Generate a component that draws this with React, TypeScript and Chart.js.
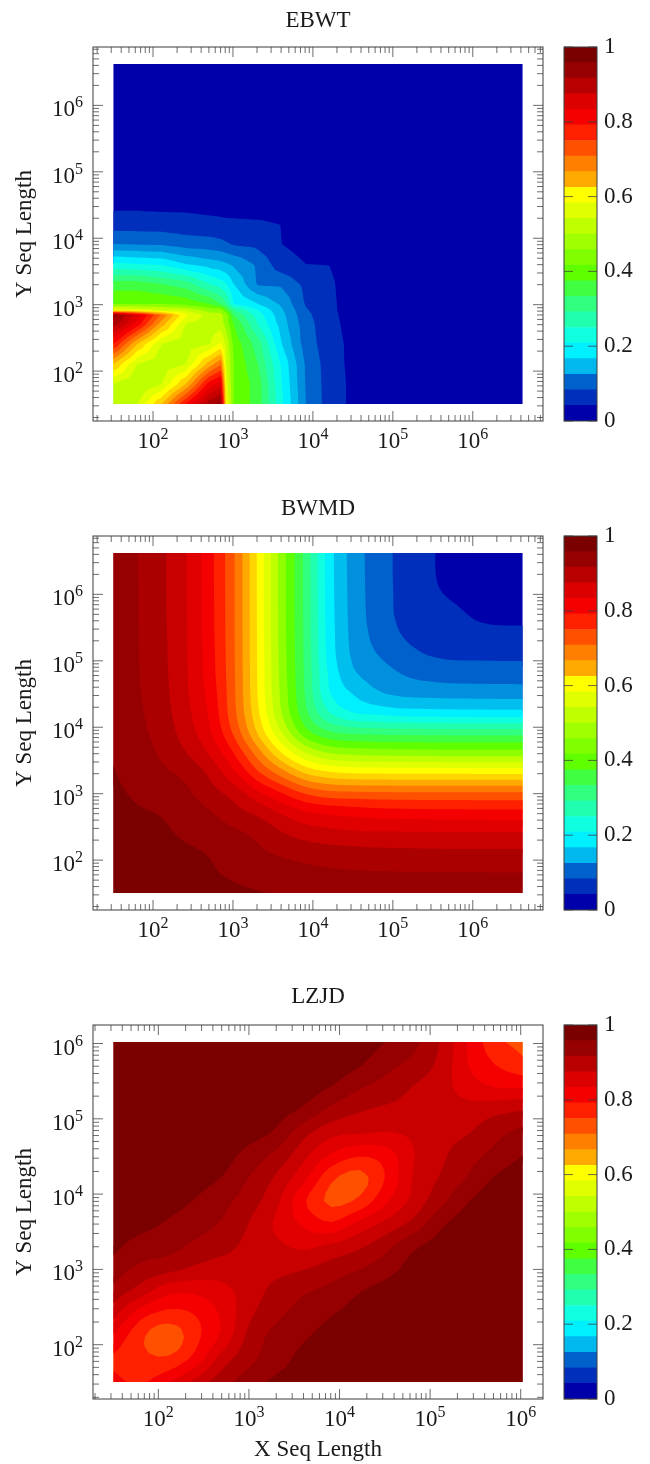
import React, { useEffect, useRef } from "react";
import { Chart, registerables } from "chart.js";

Chart.register(...registerables);

// Sequence lengths at which each table was read (contour nodes).
const ebwtLengths = [32, 64, 128, 256, 512, 700, 832, 1024, 2048, 4096, 8192, 16384, 32768, 65536, 131072, 262144, 524288, 1048576, 2097152, 4194304];
const bwmdLengths = [32, 64, 128, 256, 512, 1024, 2048, 4096, 8192, 16384, 32768, 65536, 131072, 262144, 524288, 1048576, 2097152, 4194304];
const lzjdLengths = [32, 64, 128, 256, 512, 1024, 2048, 4096, 8192, 16384, 32768, 65536, 131072, 262144, 524288, 1048576];

// Similarity in 1/26ths (one unit per contour band); the matrices are symmetric, so only j >= i is listed.
const UNITS = 26;
const ebwtUpper = [
  [12.2, 13, 16, 20, 23.6, 24.5, 14, 11, 9.5, 6.2, 3, 1.5, 0.75, 0.35, 0.15, 0.08, 0.05, 0.05, 0.05, 0.05],
  [12, 13, 16, 20.5, 21.5, 13.5, 11, 9.5, 6, 2.9, 1.5, 0.75, 0.35, 0.12, 0.05, 0.05, 0.05, 0.05, 0.05],
  [12.3, 13, 16.5, 17.8, 13, 11, 9, 5.8, 2.85, 1.45, 0.7, 0.3, 0.12, 0.05, 0.05, 0.05, 0.05, 0.05],
  [12.3, 13, 14.2, 12.7, 10.7, 8.5, 5, 2.5, 1.4, 0.7, 0.3, 0.1, 0.05, 0.05, 0.05, 0.05, 0.05],
  [12.5, 12.5, 11.5, 10, 7, 4.5, 2.4, 1.3, 0.6, 0.25, 0.1, 0.05, 0.05, 0.05, 0.05, 0.05],
  [12.3, 11.5, 9, 6.5, 4.3, 2.25, 1.25, 0.55, 0.22, 0.08, 0.05, 0.05, 0.05, 0.05, 0.05],
  [10, 8, 6, 4.1, 2.1, 1.2, 0.52, 0.2, 0.08, 0.05, 0.05, 0.05, 0.05, 0.05],
  [6, 5, 3.8, 1.9, 1.2, 0.5, 0.2, 0.08, 0.05, 0.05, 0.05, 0.05, 0.05],
  [2.9, 2.8, 1.7, 1.15, 0.45, 0.18, 0.08, 0.05, 0.05, 0.05, 0.05, 0.05],
  [1.35, 1, 0.97, 0.45, 0.15, 0.06, 0.05, 0.05, 0.05, 0.05, 0.05],
  [0.7, 0.6, 0.25, 0.1, 0.05, 0.05, 0.05, 0.05, 0.05, 0.05],
  [0.35, 0.15, 0.07, 0.05, 0.05, 0.05, 0.05, 0.05, 0.05],
  [0.1, 0.05, 0.05, 0.05, 0.05, 0.05, 0.05, 0.05],
  [0.05, 0.05, 0.05, 0.05, 0.05, 0.05, 0.05],
  [0.05, 0.05, 0.05, 0.05, 0.05, 0.05],
  [0.05, 0.05, 0.05, 0.05, 0.05],
  [0.05, 0.05, 0.05, 0.05],
  [0.05, 0.05, 0.05],
  [0.05, 0.05],
  [0.05],
];
const bwmdUpper = [
  [25.8, 25.65, 25.4, 25.3, 25.2, 25.12, 25.04, 24.95, 24.9, 24.88, 24.86, 24.85, 24.84, 24.83, 24.82, 24.81, 24.8, 24.8],
  [25.6, 25.4, 25.25, 25.07, 24.9, 24.7, 24.5, 24.3, 24.18, 24.1, 24.07, 24.05, 24.04, 24.03, 24.03, 24.02, 24.02],
  [25.3, 25.15, 24.95, 24.65, 24.2, 23.85, 23.6, 23.45, 23.35, 23.28, 23.25, 23.22, 23.2, 23.2, 23.2, 23.2],
  [24.85, 24.55, 24.2, 23.75, 23.05, 22.55, 22.3, 22.15, 22.12, 22.1, 22.09, 22.07, 22.06, 22.05, 22.05],
  [24.1, 23.4, 22.8, 21.9, 21.15, 20.85, 20.65, 20.5, 20.45, 20.4, 20.38, 20.36, 20.35, 20.35],
  [22.6, 21.2, 20, 18.85, 18.3, 18.2, 18.15, 18.12, 18.1, 18.1, 18.1, 18.1, 18.1],
  [19.2, 17.5, 15.9, 15.2, 14.95, 14.9, 14.88, 14.87, 14.86, 14.85, 14.85, 14.85],
  [15, 13, 11.95, 11.7, 11.6, 11.55, 11.5, 11.48, 11.47, 11.47, 11.47],
  [10.4, 9.2, 8.85, 8.75, 8.7, 8.68, 8.66, 8.65, 8.65, 8.65],
  [7, 6, 5.75, 5.5, 5.45, 5.4, 5.38, 5.36, 5.35],
  [4.9, 4.1, 3.75, 3.65, 3.6, 3.58, 3.56, 3.55],
  [3.5, 2.95, 2.65, 2.5, 2.47, 2.45, 2.45],
  [2.35, 1.95, 1.8, 1.77, 1.75, 1.75],
  [1.6, 1.5, 1.25, 1.2, 1.2],
  [1.2, 0.9, 0.72, 0.7],
  [0.7, 0.45, 0.4],
  [0.3, 0.15],
  [0.05],
];
const lzjdUpper = [
  [20.3, 19.85, 20.85, 22.35, 23.65, 24.55, 25.25, 25.6, 25.8, 25.9, 25.9, 25.9, 25.9, 25.9, 25.9, 25.9],
  [19.3, 19.2, 20.4, 22.5, 23.75, 24.6, 25.3, 25.6, 25.8, 25.9, 25.9, 25.9, 25.9, 25.9, 25.9],
  [18.3, 19.7, 21.25, 23.35, 24.35, 24.9, 25.4, 25.7, 25.8, 25.9, 25.9, 25.9, 25.9, 25.9],
  [20.05, 21.2, 22.8, 23.8, 24.4, 24.95, 25.4, 25.7, 25.8, 25.9, 25.9, 25.9, 25.9],
  [21.7, 22.5, 23.35, 23.9, 24.3, 24.95, 25.4, 25.7, 25.8, 25.9, 25.9, 25.9],
  [22.7, 22.7, 22.95, 23.45, 23.95, 24.6, 25.4, 25.7, 25.8, 25.9, 25.9],
  [22.2, 21.8, 22.2, 22.8, 23.7, 24.8, 25.4, 25.7, 25.85, 25.9],
  [20.8, 20.1, 21.25, 22.25, 23.3, 24.8, 25.5, 25.8, 25.9],
  [18.75, 19.2, 20.85, 22.3, 23.7, 24.95, 25.6, 25.85],
  [18.65, 20.1, 22.1, 23.1, 24.1, 25.1, 25.6],
  [20.5, 21.95, 22.8, 23.6, 24.3, 25],
  [22.2, 22.65, 22.95, 23.7, 24.3],
  [22.5, 22.4, 22.7, 22.95],
  [21.5, 21, 20.95],
  [20, 19.3],
  [18.7],
];

// Filled contour colours, lowest band first.
const plotBands = [
  "#0000aa", "#0030bb", "#0060cc", "#0090dd", "#00bfee", "#00f0ff", "#10ffe0", "#20ffb0", "#30ff80",
  "#40ff40", "#60ff00", "#90ff00", "#bfff00", "#e0ff00", "#ffff00", "#ffd500", "#ffaa00", "#ff7a00",
  "#ff5000", "#ff2000", "#f50000", "#e00000", "#c80000", "#aa0000", "#960000", "#7b0000",
];
// Colour bar swatches, lowest first.
const barBands = [
  "#0000aa", "#0030bb", "#0060cc", "#00b8ee", "#00f0ff", "#10ffe0", "#20ffb0", "#30ff80", "#40ff40", "#60ff00",
  "#80ff00", "#a0ff00", "#c0ff00", "#e0ff00", "#ffff00", "#ffaa00", "#ff8000", "#ff5000", "#ff2000", "#f50000",
  "#dd0000", "#b80000", "#960000", "#7a0000",
];
const barTickValues = [0, 0.2, 0.4, 0.6, 0.8, 1];
const barTickLabels = ["0", "0.2", "0.4", "0.6", "0.8", "1"];
const logTickLabels: Record<number, string[]> = {
  100: ["10", "2"],
  1000: ["10", "3"],
  10000: ["10", "4"],
  100000: ["10", "5"],
  1000000: ["10", "6"],
};

const titles = ["EBWT", "BWMD", "LZJD"];
const yTitle = "Y Seq Length";
const xTitle = "X Seq Length";

const FONT = "'Liberation Serif', serif";
const TEXT = "#1a1a1a";
const LINE = "#3c3c3c";
const AREA = { top: 47, bottom: 421, left: 93, right: 543 };

function expand(upper: number[][], lengths: number[]) {
  const pts: { x: number; y: number; v: number }[] = [];
  lengths.forEach((x, i) =>
    lengths.forEach((y, j) => {
      const u = i <= j ? upper[i][j - i] : upper[j][i - j];
      pts.push({ x, y, v: u / UNITS });
    })
  );
  return pts;
}

const catmull = (a: number, b: number, c: number, d: number, t: number) =>
  0.5 * (2 * b + (c - a) * t + (2 * a - 5 * b + 4 * c - d) * t * t + (3 * b - a - 3 * c + d) * t * t * t);

function refine(line: number[], s: number) {
  const n = line.length;
  const out: number[] = [];
  for (let i = 0; i < n - 1; i++) {
    for (let k = 0; k < s; k++) {
      out.push(catmull(line[Math.max(i - 1, 0)], line[i], line[i + 1], line[Math.min(i + 2, n - 1)], k / s));
    }
  }
  out.push(line[n - 1]);
  return out;
}

const contourPlugin = {
  id: "contourBands",
  beforeDatasetsDraw(chart: any) {
    const ds = chart.data.datasets[0];
    const lengths: number[] = ds.lengths;
    const s: number = ds.smooth;
    const n = lengths.length;
    const coarse: number[][] = lengths.map((_, i) => lengths.map((__, j) => ds.data[i * n + j].v as number));
    const byColumn = coarse.map((col) => refine(col, s));
    const m = byColumn[0].length;
    const rows: number[][] = [];
    for (let j = 0; j < m; j++) rows.push(refine(byColumn.map((c) => c[j]), s));
    const at = (i: number, j: number) => rows[j][i];
    const sx = refine(lengths.map((l) => chart.scales.x.getPixelForValue(l)), s);
    const sy = refine(lengths.map((l) => chart.scales.y.getPixelForValue(l)), s);
    const ctx = chart.ctx;
    const count = plotBands.length;
    const step = 1 / count;
    ctx.save();
    // Each band paints {v >= its floor}; cells two or more bands above it are left to the higher bands.
    plotBands.forEach((color, b) => {
      const lo = b * step;
      const skipFrom = lo + 2 * step;
      const path = new Path2D();
      const addTri = (tri: number[][]) => {
        const poly: number[][] = [];
        for (let k = 0; k < 3; k++) {
          const p = tri[k];
          const q = tri[(k + 1) % 3];
          const pin = p[2] >= lo;
          const qin = q[2] >= lo;
          if (pin) poly.push(p);
          if (pin !== qin) {
            const t = (lo - p[2]) / (q[2] - p[2]);
            poly.push([p[0] + t * (q[0] - p[0]), p[1] + t * (q[1] - p[1]), lo]);
          }
        }
        if (poly.length < 3) return;
        path.moveTo(poly[0][0], poly[0][1]);
        for (let k = 1; k < poly.length; k++) path.lineTo(poly[k][0], poly[k][1]);
        path.closePath();
      };
      for (let j = 0; j < m - 1; j++) {
        let runStart = -1;
        const flush = (end: number) => {
          if (runStart < 0) return;
          path.moveTo(sx[runStart], sy[j]);
          path.lineTo(sx[end], sy[j]);
          path.lineTo(sx[end], sy[j + 1]);
          path.lineTo(sx[runStart], sy[j + 1]);
          path.closePath();
          runStart = -1;
        };
        for (let i = 0; i < m - 1; i++) {
          const va = at(i, j);
          const vc = at(i + 1, j);
          const vd = at(i + 1, j + 1);
          const ve = at(i, j + 1);
          const lowest = Math.min(va, vc, vd, ve);
          const highest = Math.max(va, vc, vd, ve);
          if (lowest >= lo && lowest < skipFrom) {
            if (runStart < 0) runStart = i;
            continue;
          }
          flush(i);
          if (highest < lo || lowest >= skipFrom) continue;
          const a = [sx[i], sy[j], va];
          const c = [sx[i + 1], sy[j], vc];
          const d = [sx[i + 1], sy[j + 1], vd];
          const e = [sx[i], sy[j + 1], ve];
          const mid = [(sx[i] + sx[i + 1]) / 2, (sy[j] + sy[j + 1]) / 2, (va + vc + vd + ve) / 4];
          addTri([a, c, mid]);
          addTri([c, d, mid]);
          addTri([d, e, mid]);
          addTri([e, a, mid]);
        }
        flush(m - 1);
      }
      ctx.fillStyle = color;
      ctx.fill(path);
    });
    ctx.restore();
  },
};

const framePlugin = {
  id: "insideTicks",
  afterDraw(chart: any) {
    const { ctx, chartArea: a, scales } = chart;
    ctx.save();
    ctx.strokeStyle = LINE;
    ctx.lineWidth = 1;
    const long = chart.options.plugins.insideTicks.major;
    const short = chart.options.plugins.insideTicks.minor;
    ctx.globalAlpha = 0.75;
    ctx.beginPath();
    const xs = scales.x;
    if (xs && xs.options.display !== false) {
      xs.ticks.forEach((t: any) => {
        const p = xs.getPixelForValue(t.value);
        const l = t.major ? long : short;
        ctx.moveTo(p, a.bottom);
        ctx.lineTo(p, a.bottom - l);
        ctx.moveTo(p, a.top);
        ctx.lineTo(p, a.top + l);
      });
    }
    scales.y.ticks.forEach((t: any) => {
      const p = scales.y.getPixelForValue(t.value);
      const l = t.major ? long : short;
      ctx.moveTo(a.left, p);
      ctx.lineTo(a.left + l, p);
      ctx.moveTo(a.right, p);
      ctx.lineTo(a.right - l, p);
    });
    ctx.stroke();
    ctx.globalAlpha = 1;
    ctx.strokeRect(a.left, a.top, a.right - a.left, a.bottom - a.top);
    ctx.restore();
  },
};

// Log-axis tick labels with a raised exponent, placed from each scale's own ticks.
const powerLabelPlugin = {
  id: "powerLabels",
  afterDraw(chart: any) {
    const { ctx, chartArea: a, scales } = chart;
    ctx.save();
    ctx.fillStyle = TEXT;
    ctx.textBaseline = "alphabetic";
    const baseFont = `23px ${FONT}`;
    const expFont = `16px ${FONT}`;
    const put = (label: string[], left: number, y: number, w: number) => {
      ctx.textAlign = "left";
      ctx.font = baseFont;
      ctx.fillText(label[0], left, y);
      ctx.font = expFont;
      ctx.fillText(label[1], left + w, y - 9);
    };
    const measure = (label: string[]) => {
      ctx.font = baseFont;
      const w = ctx.measureText(label[0]).width;
      ctx.font = expFont;
      return [w, w + ctx.measureText(label[1]).width];
    };
    scales.x.ticks.forEach((t: any) => {
      if (!Array.isArray(t.label)) return;
      const [w, total] = measure(t.label);
      put(t.label, scales.x.getPixelForValue(t.value) - total / 2, a.bottom + 27, w);
    });
    scales.y.ticks.forEach((t: any) => {
      if (!Array.isArray(t.label)) return;
      const [w, total] = measure(t.label);
      put(t.label, a.left - 10 - total, scales.y.getPixelForValue(t.value) + 11, w);
    });
    ctx.restore();
  },
};

function logTicks(scale: any) {
  const out: { value: number; major: boolean }[] = [];
  for (let e = 1; e <= 6; e++) {
    for (let m = 1; m <= 9; m++) {
      const value = m * 10 ** e;
      if (value > scale.min && value < scale.max) out.push({ value, major: m === 1 });
    }
  }
  scale.ticks = out;
}

function logAxis(min: number, max: number, fit: (s: any) => void, title?: string) {
  return {
    type: "logarithmic",
    min,
    max,
    afterBuildTicks: logTicks,
    afterFit: fit,
    grid: { display: false, drawTicks: false },
    border: { display: false },
    ticks: {
      display: false,
      autoSkip: false,
      maxRotation: 0,
      minRotation: 0,
      callback: (v: number) => logTickLabels[v] ?? "",
    },
    title: title
      ? { display: true, text: title, color: TEXT, font: { family: FONT, size: 23 }, padding: { top: 0, bottom: 0 } }
      : { display: false },
  };
}

function Panel(props: {
  title: string;
  upper: number[][];
  lengths: number[];
  smooth: number;
  min: number;
  max: number;
  canvasTop: number;
  height: number;
  titleTop: number;
  showX: boolean;
}) {
  const mainRef = useRef<HTMLCanvasElement>(null);
  const barRef = useRef<HTMLCanvasElement>(null);
  const { title, upper, lengths, smooth, min, max, canvasTop, height, titleTop, showX } = props;

  useEffect(() => {
    const yAxis: any = logAxis(min, max, (s) => { s.width = AREA.left; }, yTitle);
    yAxis.title.padding = { top: 11, bottom: 0 };
    const main = new Chart(mainRef.current as HTMLCanvasElement, {
      type: "scatter",
      data: {
        datasets: [
          { label: title, data: expand(upper, lengths), lengths, smooth, pointRadius: 0, showLine: false } as any,
        ],
      },
      options: {
        responsive: false,
        animation: false,
        layout: { padding: { top: 0, left: 0, right: 650 - AREA.right, bottom: 0 } },
        plugins: {
          legend: { display: false },
          tooltip: { enabled: false },
          title: {
            display: true,
            text: title,
            color: TEXT,
            fullSize: false,
            font: { family: FONT, size: 23, weight: "normal" },
            padding: { top: titleTop, bottom: 19.4 - titleTop },
          },
          insideTicks: { major: 10, minor: 6 },
        } as any,
        scales: {
          x: logAxis(min, max, (s) => { s.height = height - AREA.bottom; }, showX ? xTitle : undefined),
          y: yAxis,
        } as any,
      },
      plugins: [contourPlugin, framePlugin, powerLabelPlugin],
    });

    const bar = new Chart(barRef.current as HTMLCanvasElement, {
      type: "bar",
      data: {
        labels: ["band"],
        datasets: barBands.map((c) => ({
          data: [1 / barBands.length],
          backgroundColor: c,
          borderWidth: 0,
          barPercentage: 1,
          categoryPercentage: 1,
        })),
      },
      options: {
        responsive: false,
        animation: false,
        layout: { padding: { top: AREA.top, bottom: height - AREA.bottom, left: 24, right: 0 } },
        plugins: {
          legend: { display: false },
          tooltip: { enabled: false },
          insideTicks: { major: 9, minor: 9 },
        } as any,
        scales: {
          x: { stacked: true, display: false },
          y: {
            stacked: true,
            position: "right",
            min: 0,
            max: 1,
            afterBuildTicks: (s: any) => {
              s.ticks = barTickValues.map((value) => ({ value, major: true }));
            },
            afterFit: (s: any) => { s.width = 53; },
            grid: { display: false, drawTicks: false },
            border: { display: false },
            ticks: {
              padding: 7,
              color: TEXT,
              font: { family: FONT, size: 23 },
              callback: (v: number) => barTickLabels[barTickValues.indexOf(v)] ?? "",
            },
          },
        } as any,
      },
      plugins: [framePlugin],
    });
    return () => {
      main.destroy();
      bar.destroy();
    };
  }, []);

  return (
    <>
      <canvas ref={mainRef} width={650} height={height} style={{ position: "absolute", left: 0, top: canvasTop }} />
      <canvas ref={barRef} width={110} height={height} style={{ position: "absolute", left: 540, top: canvasTop }} />
    </>
  );
}

export default function App() {
  return (
    <div style={{ position: "absolute", left: 0, top: 0, width: 650, height: 1464, overflow: "hidden", background: "#fff" }}>
      <Panel title={titles[0]} upper={ebwtUpper} lengths={ebwtLengths} smooth={1} min={17.75} max={7.56e6} canvasTop={0} height={480} titleTop={7} showX={false} />
      <Panel title={titles[1]} upper={bwmdUpper} lengths={bwmdLengths} smooth={3} min={17.75} max={7.56e6} canvasTop={489} height={480} titleTop={6} showX={false} />
      <Panel title={titles[2]} upper={lzjdUpper} lengths={lzjdLengths} smooth={3} min={19} max={1.762e6} canvasTop={978} height={486} titleTop={5} showX={true} />
    </div>
  );
}
